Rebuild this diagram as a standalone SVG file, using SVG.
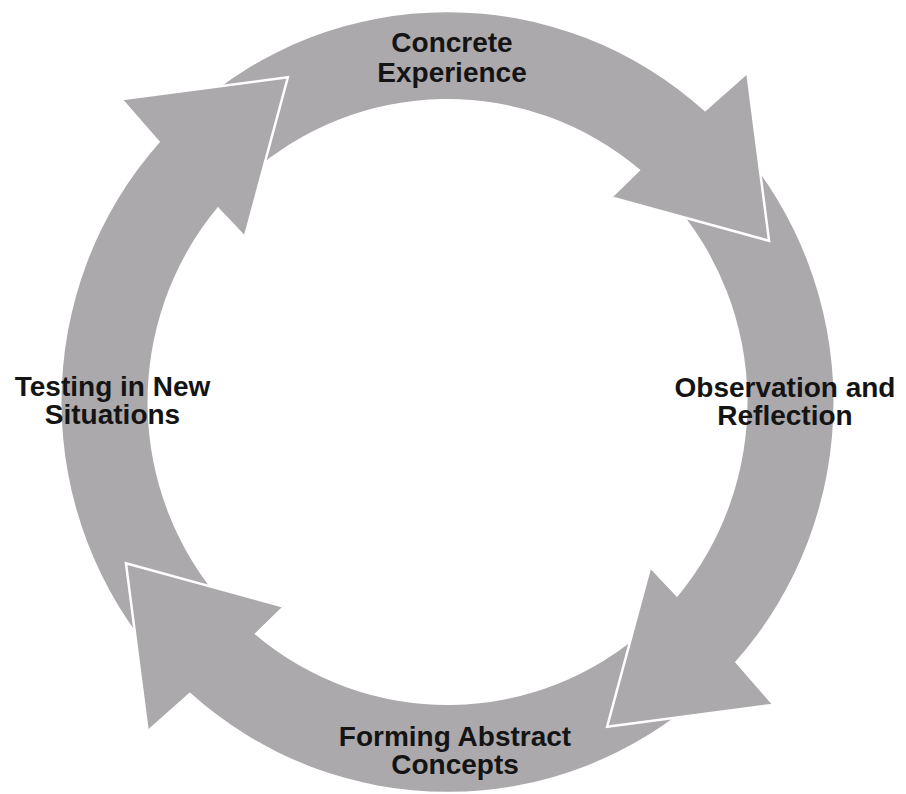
<svg xmlns="http://www.w3.org/2000/svg" xmlns:xlink="http://www.w3.org/1999/xlink" width="906" height="794" viewBox="0 0 906 794">
<style>
.arrow{fill:#aba9ab;stroke:none}
.edge{fill:none;stroke:#ffffff;stroke-width:2.5;stroke-linejoin:miter}
.lbl{font-family:"Liberation Sans",Arial,sans-serif;font-weight:bold;font-size:28px;fill:#141414;text-anchor:middle}
</style>
<defs>
<path id="arrowShape" d="M -258.28,-286.85 A 386 386 0 0 1 257.78,-287.30 L 300.03,-324.57 L 321.56,-159.63 L 164.96,-202.26 L 193.24,-229.48 A 300 300 0 0 0 -200.74,-222.94 Z"/>
<path id="headShape" d="M 257.78,-287.30 L 300.03,-324.57 L 321.56,-159.63 L 164.96,-202.26 L 193.24,-229.48 Z"/>
<path id="headEdge" d="M 300.03,-324.57 L 321.56,-159.63 L 164.96,-202.26"/>
</defs>
<rect width="906" height="794" fill="#ffffff"/>
<g id="connectors" transform="translate(447.5,402) scale(1,1.01)">
<use xlink:href="#arrowShape" class="arrow"/>
<use xlink:href="#arrowShape" class="arrow" transform="rotate(90)"/>
<use xlink:href="#arrowShape" class="arrow" transform="rotate(180)"/>
<use xlink:href="#arrowShape" class="arrow" transform="rotate(270)"/>
<g>
<use xlink:href="#headShape" class="arrow"/>
<use xlink:href="#headEdge" class="edge"/>
</g>
<g transform="rotate(90)">
<use xlink:href="#headShape" class="arrow"/>
<use xlink:href="#headEdge" class="edge"/>
</g>
<g transform="rotate(180)">
<use xlink:href="#headShape" class="arrow"/>
<use xlink:href="#headEdge" class="edge"/>
</g>
<g transform="rotate(270)">
<use xlink:href="#headShape" class="arrow"/>
<use xlink:href="#headEdge" class="edge"/>
</g>
</g>
<g id="node-concrete-experience">
<text class="lbl" x="452" y="52">Concrete</text>
<text class="lbl" x="452" y="82">Experience</text>
</g>
<g id="node-observation-reflection">
<text class="lbl" x="785" y="397">Observation and</text>
<text class="lbl" x="785" y="425">Reflection</text>
</g>
<g id="node-forming-abstract-concepts">
<text class="lbl" x="455" y="746">Forming Abstract</text>
<text class="lbl" x="455" y="774">Concepts</text>
</g>
<g id="node-testing-new-situations">
<text class="lbl" x="112.5" y="396">Testing in New</text>
<text class="lbl" x="112.5" y="424">Situations</text>
</g>
</svg>
